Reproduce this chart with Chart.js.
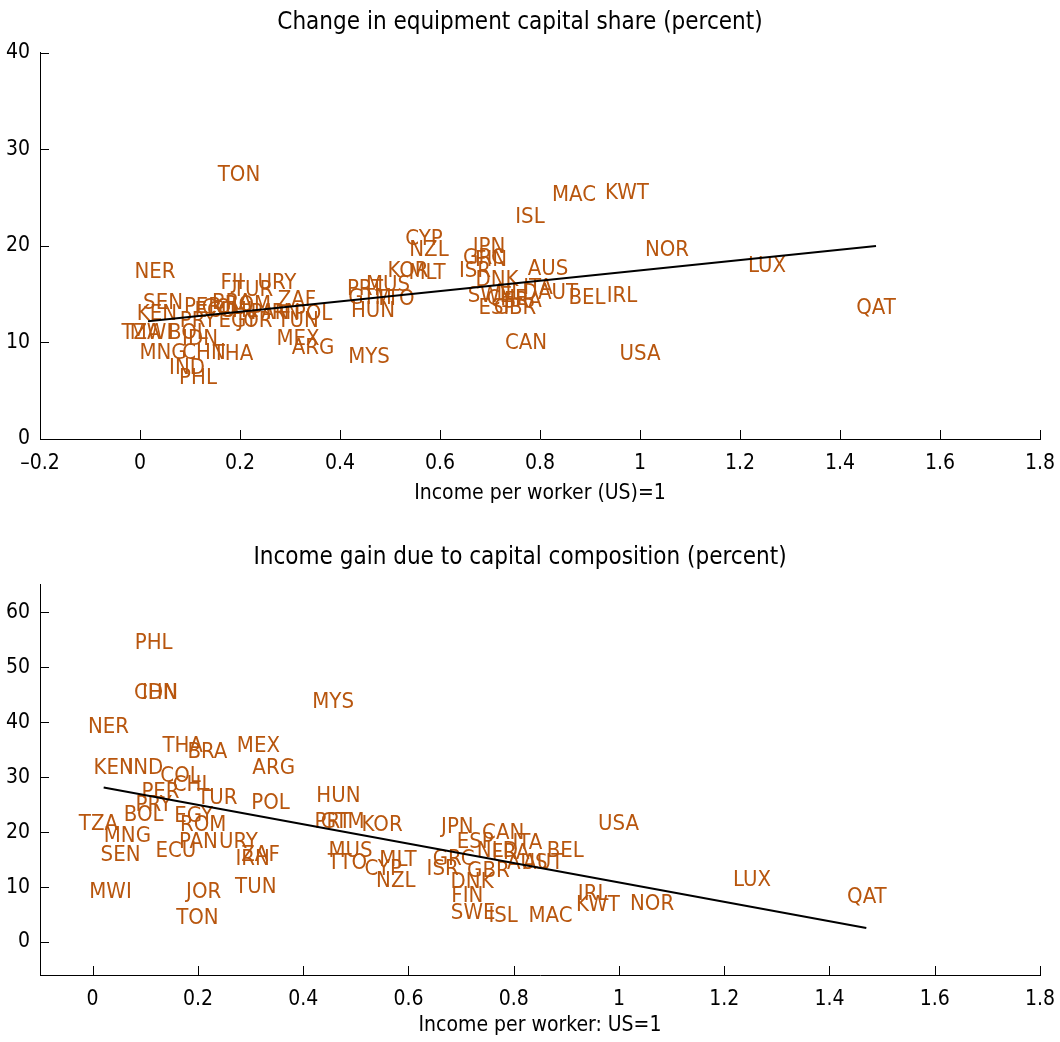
<!DOCTYPE html>
<html>
<head>
<meta charset="utf-8">
<title>Equipment capital share and income gain</title>
<script src="https://cdn.jsdelivr.net/npm/chart.js@4.4.1/dist/chart.umd.min.js"></script>
<style>
  body { margin: 0; background: #fff; }
  canvas { display: block; }
</style>
</head>
<body>
<canvas id="shareChart" width="1060" height="520"></canvas>
<canvas id="gainChart" width="1060" height="522"></canvas>
<script>
// top panel: change in equipment capital share
const shareCodes = [
    "TON", "NER", "FJI", "URY", "TUR", "ZAF", "SEN", "KEN", "PER", "COL",
    "BRA", "ROM", "ECU", "CHL", "IRN", "POL", "PRY", "EGY", "JOR", "TUN",
    "PAN", "TZA", "MWI", "BOL", "IDN", "MNG", "CHN", "THA", "IND", "PHL",
    "MEX", "ARG", "MYS", "PRT", "GTM", "HUN", "MUS", "TTO", "KOR", "MLT",
    "CYP", "NZL", "JPN", "GRC", "FIN", "ISR", "DNK", "SWE", "NLD", "ITA",
    "FRA", "AUT", "BEL", "IRL", "ESP", "GBR", "CHE", "AUS", "CAN", "USA",
    "ISL", "MAC", "KWT", "NOR", "LUX", "QAT"
];
const shareIncome = [
    0.198, 0.03, 0.184, 0.274, 0.226, 0.314, 0.046, 0.034, 0.126, 0.164,
    0.184, 0.216, 0.15, 0.196, 0.286, 0.346, 0.116, 0.196, 0.23, 0.316,
    0.26, 0.002, 0.022, 0.096, 0.12, 0.046, 0.128, 0.186, 0.094, 0.116,
    0.316, 0.346, 0.458, 0.45, 0.46, 0.466, 0.496, 0.51, 0.536, 0.574,
    0.568, 0.578, 0.698, 0.688, 0.702, 0.67, 0.714, 0.70, 0.754, 0.796,
    0.766, 0.836, 0.894, 0.964, 0.714, 0.75, 0.734, 0.816, 0.772, 1.0,
    0.78, 0.868, 0.974, 1.054, 1.254, 1.472
];
const shareChange = [
    27.3, 17.3, 16.1, 16.1, 15.4, 14.4, 14.1, 12.9, 13.6, 13.5,
    14.1, 13.9, 13.2, 13.2, 13.0, 12.9, 12.2, 12.2, 12.2, 12.2,
    13.0, 10.9, 10.9, 10.9, 10.3, 8.85, 8.85, 8.75, 7.3, 6.25,
    10.3, 9.4, 8.5, 15.5, 14.6, 13.2, 15.9, 14.5, 17.4, 17.2,
    20.7, 19.5, 19.9, 18.75, 18.5, 17.4, 16.4, 14.8, 15.1, 15.6,
    14.3, 15.1, 14.6, 14.8, 13.5, 13.5, 14.5, 17.6, 9.9, 8.75,
    23.0, 25.2, 25.5, 19.5, 17.9, 13.5
];
const shareFitX = [0.016, 1.472];
const shareFitY = [12.2, 20.0];
const shareXTicks = [-0.2, 0, 0.2, 0.4, 0.6, 0.8, 1, 1.2, 1.4, 1.6, 1.8];
const shareYTicks = [0, 10, 20, 30, 40];

// bottom panel: income gain due to capital composition
const gainCodes = [
    "PHL", "CHN", "IDN", "NER", "THA", "BRA", "MEX", "ARG", "KEN", "IND",
    "MYS", "COL", "CHL", "PER", "TUR", "PRY", "POL", "BOL", "EGY", "TZA",
    "ROM", "MNG", "PAN", "URY", "ECU", "SEN", "ZAF", "IRN", "TUN", "MWI",
    "JOR", "TON", "HUN", "PRT", "GTM", "TTO", "MUS", "CYP", "MLT", "NZL",
    "KOR", "JPN", "CAN", "ESP", "NLD", "ITA", "BEL", "FRA", "GRC", "AUS",
    "AUT", "ISR", "GBR", "DNK", "FIN", "SWE", "ISL", "MAC", "USA", "IRL",
    "KWT", "NOR", "LUX", "QAT"
];
const gainIncome = [
    0.116, 0.12, 0.128, 0.03, 0.171, 0.218, 0.315, 0.344, 0.04, 0.1,
    0.457, 0.167, 0.19, 0.129, 0.237, 0.116, 0.338, 0.097, 0.192, 0.011,
    0.21, 0.066, 0.201, 0.277, 0.158, 0.053, 0.319, 0.304, 0.31, 0.034,
    0.211, 0.199, 0.467, 0.456, 0.475, 0.484, 0.49, 0.552, 0.58, 0.576,
    0.55, 0.693, 0.78, 0.727, 0.769, 0.826, 0.898, 0.794, 0.686, 0.826,
    0.856, 0.665, 0.752, 0.721, 0.712, 0.723, 0.78, 0.87, 0.999, 0.951,
    0.96, 1.063, 1.253, 1.471
];
const gainPct = [
    54.3, 45.2, 45.2, 39.0, 35.6, 34.5, 35.6, 31.7, 31.7, 31.7,
    43.6, 30.1, 28.6, 27.2, 26.1, 24.8, 25.2, 23.0, 22.8, 21.5,
    21.2, 19.2, 18.1, 18.1, 16.6, 15.7, 15.7, 15.1, 10.0, 9.1,
    9.1, 4.4, 26.6, 21.7, 21.7, 14.4, 16.6, 13.3, 14.8, 11.1,
    21.2, 20.8, 19.7, 18.1, 16.6, 17.9, 16.6, 16.1, 15.1, 14.4,
    14.4, 13.3, 12.9, 10.8, 8.4, 5.3, 4.7, 4.7, 21.5, 8.75,
    6.6, 6.9, 11.3, 8.2
];
const gainFitX = [0.021, 1.47];
const gainFitY = [28.1, 2.55];
const gainXTicks = [0, 0.2, 0.4, 0.6, 0.8, 1, 1.2, 1.4, 1.6, 1.8];
const gainYTicks = [0, 10, 20, 30, 40, 50, 60];

const FONT = "'Liberation Sans Narrow', 'DejaVu Sans Condensed', 'Nimbus Sans Narrow', sans-serif";
const LABEL_COLOR = "#b8560e";

Chart.defaults.font.family = FONT;
Chart.defaults.color = "#000";

function fmtTick(v) {
    const r = Math.round(v * 10) / 10;
    return r < 0 ? "\u2013" + Math.abs(r) : String(r);
}

// country codes drawn at each point (under the fit line)
const codeLabels = {
    id: "codeLabels",
    beforeDatasetsDraw(chart) {
        const ctx = chart.ctx;
        chart.data.datasets.forEach((ds, i) => {
            if (!ds.codes) return;
            const meta = chart.getDatasetMeta(i);
            ctx.save();
            ctx.font = "22px " + FONT;
            ctx.fillStyle = LABEL_COLOR;
            ctx.textAlign = "center";
            ctx.textBaseline = "middle";
            meta.data.forEach((pt, j) => ctx.fillText(ds.codes[j], pt.x, pt.y));
            ctx.restore();
        });
    },
};

// matlab style ticks pointing into the plot
const inwardTicks = {
    id: "inwardTicks",
    afterDraw(chart) {
        const ctx = chart.ctx;
        const x = chart.scales.x, y = chart.scales.y;
        const a = chart.chartArea;
        ctx.save();
        ctx.strokeStyle = "#000";
        ctx.lineWidth = 1;
        ctx.beginPath();
        x.ticks.forEach(t => {
            const px = Math.round(x.getPixelForValue(t.value)) + 0.5;
            ctx.moveTo(px, a.bottom);
            ctx.lineTo(px, a.bottom - 9);
        });
        y.ticks.forEach(t => {
            const py = Math.round(y.getPixelForValue(t.value)) + 0.5;
            ctx.moveTo(a.left, py);
            ctx.lineTo(a.left + 9, py);
        });
        ctx.stroke();
        ctx.restore();
    },
};

function makePanel(el, cfg) {
    const points = cfg.xs.map((v, i) => ({ x: v, y: cfg.ys[i] }));
    const fit = cfg.fitX.map((v, i) => ({ x: v, y: cfg.fitY[i] }));
    return new Chart(el, {
        type: "scatter",
        data: {
            datasets: [
                {
                    data: points,
                    codes: cfg.codes,
                    pointRadius: 0,
                    pointHoverRadius: 0,
                },
                {
                    type: "line",
                    data: fit,
                    borderColor: "#000",
                    borderWidth: 2,
                    pointRadius: 0,
                    fill: false,
                },
            ],
        },
        options: {
            responsive: false,
            animation: false,
            events: [],
            layout: { padding: { left: 0, right: 20, top: 0, bottom: cfg.padBottom } },
            plugins: {
                legend: { display: false },
                tooltip: { enabled: false },
                title: {
                    display: true,
                    text: cfg.title,
                    color: "#000",
                    font: { size: 24, weight: "normal", lineHeight: 1.2 },
                    padding: { top: cfg.titleTop, bottom: cfg.titleBottom },
                },
            },
            scales: {
                x: {
                    type: "linear",
                    min: cfg.xMin,
                    max: 1.8,
                    afterBuildTicks: s => { s.ticks = cfg.xTicks.map(v => ({ value: v })); },
                    afterFit: s => {
                        s.height = cfg.xAxisHeight;
                        s.paddingLeft = 0;
                        s.paddingRight = 0;
                    },
                    grid: { display: false, drawTicks: false },
                    border: { display: true, color: "#000", width: 1 },
                    ticks: {
                        padding: 12,
                        maxRotation: 0,
                        autoSkip: false,
                        font: { size: 21 },
                        callback: fmtTick,
                    },
                    title: {
                        display: true,
                        text: cfg.xTitle,
                        font: { size: 21 },
                        padding: { top: 4, bottom: 4 },
                    },
                },
                y: {
                    type: "linear",
                    min: cfg.yMin,
                    max: cfg.yMax,
                    afterBuildTicks: s => { s.ticks = cfg.yTicks.map(v => ({ value: v })); },
                    afterFit: s => { s.width = 40; },
                    grid: { display: false, drawTicks: false },
                    border: { display: true, color: "#000", width: 1 },
                    ticks: { padding: 10, font: { size: 21 }, callback: fmtTick },
                },
            },
        },
        plugins: [codeLabels, inwardTicks],
    });
}

makePanel(document.getElementById("shareChart"), {
    codes: shareCodes,
    xs: shareIncome,
    ys: shareChange,
    fitX: shareFitX,
    fitY: shareFitY,
    xTicks: shareXTicks,
    yTicks: shareYTicks,
    xMin: -0.2,
    yMin: 0,
    yMax: 40,
    title: "Change in equipment capital share (percent)",
    xTitle: "Income per worker (US)=1",
    titleTop: 8,
    titleBottom: 16,
    xAxisHeight: 71,
    padBottom: 10,
});

makePanel(document.getElementById("gainChart"), {
    codes: gainCodes,
    xs: gainIncome,
    ys: gainPct,
    fitX: gainFitX,
    fitY: gainFitY,
    xTicks: gainXTicks,
    yTicks: gainYTicks,
    xMin: -0.1,
    yMin: -6,
    yMax: 65,
    title: "Income gain due to capital composition (percent)",
    xTitle: "Income per worker: US=1",
    titleTop: 23,
    titleBottom: 13,
    xAxisHeight: 67,
    padBottom: 0,
});
</script>
</body>
</html>
